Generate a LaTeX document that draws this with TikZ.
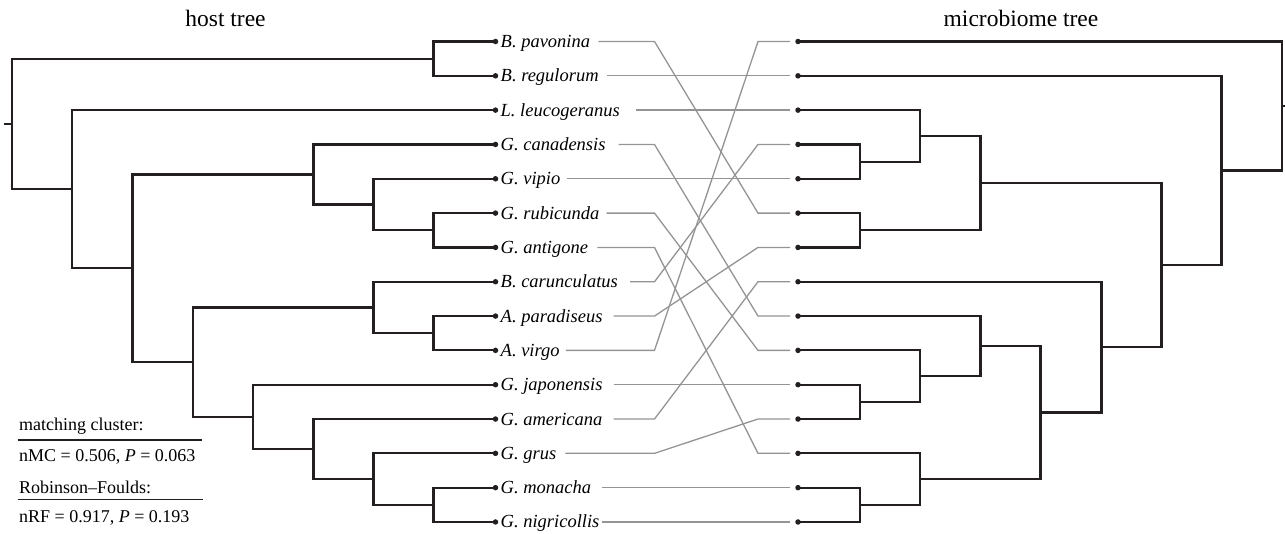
\documentclass[tikz,border=0pt]{standalone}
\usepackage{fontspec}
\setmainfont{Liberation Serif}
\definecolor{treeblack}{HTML}{231F20}
\definecolor{conngray}{HTML}{949494}
\begin{document}
\begin{tikzpicture}[x=1pt,y=-1pt,
  branch/.style={draw=treeblack, line width=2.2pt, line join=miter},
  conn/.style={draw=conngray, line width=1.3pt},
  leafdot/.style={circle, fill=treeblack, inner sep=0pt, minimum size=5.5pt},
  taxon/.style={anchor=west, inner sep=0pt, text height=12pt, text depth=0pt, font=\fontsize{18.5}{22}\selectfont\itshape},
  title/.style={anchor=base, inner sep=0pt, font=\fontsize{23.5}{28}\selectfont},
  stat/.style={anchor=base west, inner sep=0pt, font=\fontsize{18}{22}\selectfont},
  rulestyle/.style={draw=treeblack, line width=1.6pt}]
\useasboundingbox (0,0) rectangle (1285,533);

% titles
\node[title] (hosttitle) at (225.5,26) {host tree};
\node[title] (microtitle) at (1021,26) {microbiome tree};

% leaves, labels
\foreach \i/\name in {0/B. pavonina,1/B. regulorum,2/L. leucogeranus,3/G. canadensis,4/G. vipio,5/G. rubicunda,6/G. antigone,7/B. carunculatus,8/A. paradiseus,9/A. virgo,10/G. japonensis,11/G. americana,12/G. grus,13/G. monacha,14/G. nigricollis}{
  \node[leafdot] (h\i) at (495.5,{41.5+34.32*\i}) {};
  \node[taxon] (t\i) at ([xshift=5pt]h\i.center) {\name};
  \node[leafdot] (r\i) at (798,{41.5+34.32*\i}) {};
}

% host tree internal nodes
\coordinate (hstub) at (4,123.95);
\coordinate (hroot) at (11.7,123.95);
\coordinate (hb) at (433.5,58.66);
\coordinate (hc) at (72,189.24);
\coordinate (hd) at (132.5,268.33);
\coordinate (he) at (313.5,174.49);
\coordinate (hg) at (373.5,204.52);
\coordinate (hk) at (433.5,230.26);
\coordinate (hf) at (193,362.18);
\coordinate (hm) at (373.5,307.48);
\coordinate (hp) at (433.5,333.22);
\coordinate (hn) at (253,416.875);
\coordinate (hq) at (313.5,449.05);
\coordinate (hs) at (373.5,479.08);
\coordinate (ht) at (433.5,504.82);

\draw[branch] (hstub) -- (hroot);
\foreach \p/\c in {hroot/hb,hroot/hc,hb/h0.center,hb/h1.center,hc/h2.center,hc/hd,
  hd/he,hd/hf,he/h3.center,he/hg,hg/h4.center,hg/hk,hk/h5.center,hk/h6.center,
  hf/hm,hf/hn,hm/h7.center,hm/hp,hp/h8.center,hp/h9.center,hn/h10.center,hn/hq,
  hq/h11.center,hq/hs,hs/h12.center,hs/ht,ht/h13.center,ht/h14.center}
  \draw[branch] (\p) |- (\c);

% microbiome tree internal nodes
\coordinate (mstub) at (1290,105.985);
\coordinate (mA) at (1281.7,105.985);
\coordinate (mB) at (1221.5,170.47);
\coordinate (mC) at (1161.5,265.115);
\coordinate (mD) at (980.5,183.07);
\coordinate (mF) at (920,135.88);
\coordinate (mH) at (860,161.62);
\coordinate (mG) at (860,230.26);
\coordinate (mE) at (1101.5,347.16);
\coordinate (mI) at (1040.5,412.585);
\coordinate (mJ) at (980.5,346.09);
\coordinate (mL) at (920,376.12);
\coordinate (mM) at (860,401.86);
\coordinate (mK) at (920,479.08);
\coordinate (mN) at (860,504.82);

\draw[branch] (mA) -- (mstub);
\foreach \p/\c in {mA/r0.center,mA/mB,mB/r1.center,mB/mC,mC/mD,mC/mE,
  mD/mF,mD/mG,mF/r2.center,mF/mH,mH/r3.center,mH/r4.center,mG/r5.center,mG/r6.center,
  mE/r7.center,mE/mI,mI/mJ,mI/mK,mJ/r8.center,mJ/mL,mL/r9.center,mL/mM,
  mM/r10.center,mM/r11.center,mK/r12.center,mK/mN,mN/r13.center,mN/r14.center}
  \draw[branch] (\p) |- (\c);

% connectors
\coordinate (bl) at (654.5,0);
\coordinate (br) at (758,0);
\foreach \i/\j/\g in {0/5/8,1/1/8,2/2/16,3/8/13,4/4/6,5/9/7,6/12/9,7/3/12,8/6/11,9/0/6,10/10/11,11/7/11,12/11/9,13/13/11,14/14/2}
  \draw[conn] ([xshift=\g pt]t\i.east) -- (t\i.east -| bl) -- (r\j -| br) -- ([xshift=-8pt]r\j.center);

% statistics
\node[stat] (mc) at (19,430) {matching cluster:};
\draw[rulestyle] (17.5,440) -- (201.5,440);
\node[stat] (mcval) at (19,461.7) {nMC = 0.506, \textit{P} = 0.063};
\node[stat] (rf) at (19,493.3) {Robinson–Foulds:};
\draw[rulestyle] (17.5,499.3) -- (202.5,499.3);
\node[stat] (rfval) at (19,522.7) {nRF = 0.917, \textit{P} = 0.193};
\end{tikzpicture}
\end{document}
